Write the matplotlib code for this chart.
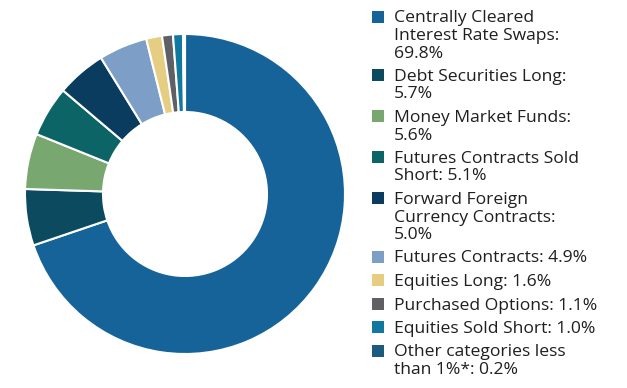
import matplotlib
matplotlib.use("Agg")
import matplotlib.pyplot as plt
from matplotlib.patches import Rectangle

labels = [
    "Centrally Cleared\nInterest Rate Swaps:\n69.8%",
    "Debt Securities Long:\n5.7%",
    "Money Market Funds:\n5.6%",
    "Futures Contracts Sold\nShort: 5.1%",
    "Forward Foreign\nCurrency Contracts:\n5.0%",
    "Futures Contracts: 4.9%",
    "Equities Long: 1.6%",
    "Purchased Options: 1.1%",
    "Equities Sold Short: 1.0%",
    "Other categories less\nthan 1%*: 0.2%",
]
values = [69.8, 5.7, 5.6, 5.1, 5.0, 4.9, 1.6, 1.1, 1.0, 0.2]
colors = ["#16639a", "#0b4a5f", "#78a76f", "#0c6466", "#0a3c5f",
          "#7d9ec6", "#e5cd82", "#5e6066", "#11799f", "#1a5b7e"]

W, H = 627, 388
fig = plt.figure(figsize=(W / 100, H / 100), dpi=100)
plt.rcParams['font.family'] = ['Open Sans', 'DejaVu Sans']

cx, cy, R = 185, 194, 160
ax = fig.add_axes([(cx - R) / W, (H - cy - R) / H, 2 * R / W, 2 * R / H])
ax.pie(values, colors=colors, startangle=90, counterclock=False,
       wedgeprops=dict(width=0.4875, edgecolor="white", linewidth=1.5))
ax.set_xlim(-1, 1)
ax.set_ylim(-1, 1)
ax.set_aspect("auto")
ax.axis("off")

# legend
fs = 11.0
# fit font size so a reference line spans about 193 px
renderer = fig.canvas.get_renderer()
t = fig.text(0, 0, "Futures Contracts: 4.9%", fontsize=fs)
w = t.get_window_extent(renderer).width
t.remove()
fs = fs * 193.0 / w

line_h = 17.5
gap = 23.5
y = 22.5  # baseline of first line, px from top
sq = 12
for lab, col in zip(labels, colors):
    lines = lab.split("\n")
    fig.patches.append(Rectangle(((372) / W, (H - y) / H), sq / W, sq / H,
                                 transform=fig.transFigure, facecolor=col,
                                 edgecolor="none"))
    for i, ln in enumerate(lines):
        fig.text(394 / W, (H - (y + i * line_h)) / H, ln, fontsize=fs,
                 color="#1f1f1f", va="baseline", ha="left")
    y += (len(lines) - 1) * line_h + gap

fig.savefig("out.png", dpi=100)
